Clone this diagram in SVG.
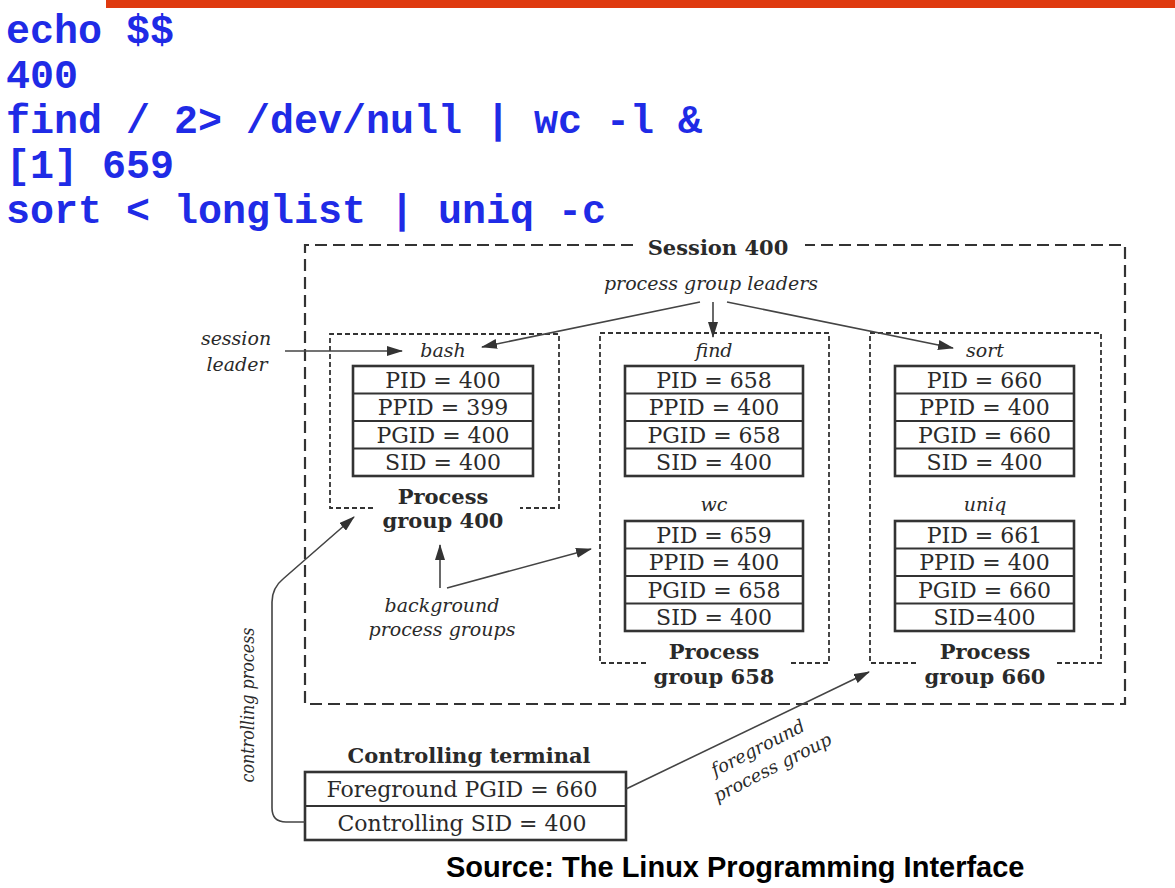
<svg xmlns="http://www.w3.org/2000/svg" width="1175" height="888" viewBox="0 0 1175 888">
<defs>
<style>
.code{font-family:"Liberation Mono","Courier New",monospace;font-weight:bold;font-size:40px;fill:#1f2be6}
.tb{fill:#fff;stroke:#333;stroke-width:2.6}
.rl{stroke:#333;stroke-width:2}
.cell{font-family:"DejaVu Serif","Liberation Serif",serif;font-size:22px;fill:#2a2a2a;text-anchor:middle}
.bold{font-family:"DejaVu Serif","Liberation Serif",serif;font-size:21px;font-weight:bold;fill:#2a2a2a;text-anchor:middle}
.it{font-family:"DejaVu Serif","Liberation Serif",serif;font-size:19px;font-style:italic;fill:#2a2a2a;text-anchor:middle}
.sess{fill:none;stroke:#333;stroke-width:2.2;stroke-dasharray:12 6}
.grp{fill:none;stroke:#333;stroke-width:1.8;stroke-dasharray:5 3}
.conn{fill:none;stroke:#444;stroke-width:1.6}
.src{font-family:"Liberation Sans",Arial,sans-serif;font-weight:bold;font-size:29px;fill:#000}
</style>
<marker id="ah" markerUnits="userSpaceOnUse" markerWidth="16" markerHeight="10" refX="15" refY="5" orient="auto">
<path d="M0,0 L16,5 L0,10 z" fill="#333"/>
</marker>
</defs>
<rect width="1175" height="888" fill="#fff"/>
<rect x="106" y="0" width="1069" height="8" fill="#df3a0f"/>

<g id="code">
<text class="code" x="6" y="43">echo $$</text>
<text class="code" x="6" y="88">400</text>
<text class="code" x="6" y="133">find / 2&gt; /dev/null | wc -l &amp;</text>
<text class="code" x="6" y="178">[1] 659</text>
<text class="code" x="6" y="223">sort &lt; longlist | uniq -c</text>
</g>

<g id="session">
<path class="sess" d="M633,245 H305 V704 H1125 V245 H805"/>
<text class="bold" x="718" y="255">Session 400</text>
</g>

<g id="group400">
<path class="grp" d="M373,508 H330 V334 H559 V508 H520"/>
<text class="bold" x="443" y="504">Process</text>
<text class="bold" x="443" y="528">group 400</text>
</g>
<g id="group658">
<path class="grp" d="M646,663 H600 V333 H829 V663 H790"/>
<text class="bold" x="714" y="659">Process</text>
<text class="bold" x="714" y="684">group 658</text>
</g>
<g id="group660">
<path class="grp" d="M916,663 H870 V333 H1101 V663 H1055"/>
<text class="bold" x="985" y="659">Process</text>
<text class="bold" x="985" y="684">group 660</text>
</g>

<g id="bash">
<text class="it" x="443" y="357">bash</text>
<rect class="tb" x="353" y="366" width="180" height="110"/>
<path class="rl" d="M353,393.5 H533 M353,421 H533 M353,448.5 H533"/>
<text class="cell" x="443" y="388">PID = 400</text>
<text class="cell" x="443" y="415">PPID = 399</text>
<text class="cell" x="443" y="443">PGID = 400</text>
<text class="cell" x="443" y="470">SID = 400</text>
</g>

<g id="find">
<text class="it" x="714" y="357">find</text>
<rect class="tb" x="625" y="366" width="178" height="110"/>
<path class="rl" d="M625,393.5 H803 M625,421 H803 M625,448.5 H803"/>
<text class="cell" x="714" y="388">PID = 658</text>
<text class="cell" x="714" y="415">PPID = 400</text>
<text class="cell" x="714" y="443">PGID = 658</text>
<text class="cell" x="714" y="470">SID = 400</text>
</g>

<g id="wc">
<text class="it" x="714" y="511">wc</text>
<rect class="tb" x="625" y="521" width="178" height="110"/>
<path class="rl" d="M625,548.5 H803 M625,576 H803 M625,603.5 H803"/>
<text class="cell" x="714" y="543">PID = 659</text>
<text class="cell" x="714" y="570">PPID = 400</text>
<text class="cell" x="714" y="598">PGID = 658</text>
<text class="cell" x="714" y="625">SID = 400</text>
</g>

<g id="sort">
<text class="it" x="985" y="357">sort</text>
<rect class="tb" x="895" y="366" width="179" height="110"/>
<path class="rl" d="M895,393.5 H1074 M895,421 H1074 M895,448.5 H1074"/>
<text class="cell" x="984.5" y="388">PID = 660</text>
<text class="cell" x="984.5" y="415">PPID = 400</text>
<text class="cell" x="984.5" y="443">PGID = 660</text>
<text class="cell" x="984.5" y="470">SID = 400</text>
</g>

<g id="uniq">
<text class="it" x="985" y="511">uniq</text>
<rect class="tb" x="895" y="521" width="179" height="110"/>
<path class="rl" d="M895,548.5 H1074 M895,576 H1074 M895,603.5 H1074"/>
<text class="cell" x="984.5" y="543">PID = 661</text>
<text class="cell" x="984.5" y="570">PPID = 400</text>
<text class="cell" x="984.5" y="598">PGID = 660</text>
<text class="cell" x="984.5" y="625">SID=400</text>
</g>

<g id="terminal">
<text class="bold" x="469" y="763">Controlling terminal</text>
<rect class="tb" x="305" y="772" width="321" height="68"/>
<path class="rl" d="M305,806 H626"/>
<text class="cell" x="462" y="797">Foreground PGID = 660</text>
<text class="cell" x="462" y="831">Controlling SID = 400</text>
</g>

<g id="labels">
<text class="it" x="236" y="345">session</text>
<text class="it" x="237" y="371">leader</text>
<text class="it" x="711" y="290">process group leaders</text>
<text class="it" x="442" y="612">background</text>
<text class="it" x="442" y="636">process groups</text>
<text class="it" transform="translate(254,705) rotate(-90)" x="0" y="0" textLength="155" lengthAdjust="spacingAndGlyphs">controlling process</text>
<g transform="translate(758,748) rotate(-27)">
<text class="it" x="0" y="6" style="font-size:18px">foreground</text>
<text class="it" x="4" y="30" style="font-size:18px">process group</text>
</g>
</g>

<g id="connectors">
<path class="conn" d="M285,351 L402,351" marker-end="url(#ah)"/>
<path class="conn" d="M700,302 L482,347" marker-end="url(#ah)"/>
<path class="conn" d="M713,302 L713,337" marker-end="url(#ah)"/>
<path class="conn" d="M727,302 L953,348" marker-end="url(#ah)"/>
<path class="conn" d="M440,588 L440,545" marker-end="url(#ah)"/>
<path class="conn" d="M447,588 L591,549" marker-end="url(#ah)"/>
<path class="conn" d="M305,822 L286,822 Q272,822 272,808 L272,602 Q272,588 283,579 L354,517" marker-end="url(#ah)"/>
<path class="conn" d="M626,789 L869,672" marker-end="url(#ah)"/>
</g>

<text class="src" x="446" y="877">Source: The Linux Programming Interface</text>
</svg>
